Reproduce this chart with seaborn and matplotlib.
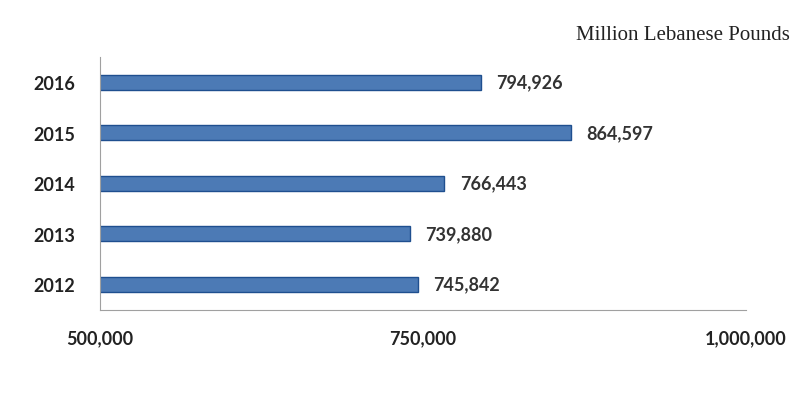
import matplotlib
matplotlib.use('Agg')
import matplotlib.pyplot as plt
import seaborn as sns
import pandas as pd

# data
years = ['2016', '2015', '2014', '2013', '2012']
values = [794926, 864597, 766443, 739880, 745842]
x_ticks = [500000, 750000, 1000000]

df = pd.DataFrame({'year': years, 'value': values})

sns.set_theme(style='white')
plt.rcParams['font.family'] = ['Lato', 'DejaVu Sans']

fig = plt.figure(figsize=(7.98, 4.14), dpi=100)
ax = fig.add_axes([0.125, 0.25, 0.81, 0.61])

sns.barplot(data=df, x='value', y='year', orient='h', color='#3b78c6',
            width=0.3, edgecolor='#1f4f8f', linewidth=1.0, ax=ax)

ax.set_xlim(500000, 1000000)
ax.set_xticks(x_ticks)
ax.set_xticklabels([f'{t:,}' for t in x_ticks], fontsize=13, fontweight='bold', color='#222222')
ax.set_yticks(range(len(years)))
ax.set_yticklabels(years, fontsize=13, fontweight='bold', color='#222222')
ax.set_xlabel('')
ax.set_ylabel('')

for s in ['top', 'right']:
    ax.spines[s].set_visible(False)
for s in ['left', 'bottom']:
    ax.spines[s].set_color('#a0a0a0')
    ax.spines[s].set_linewidth(0.8)
ax.tick_params(axis='both', length=4, color='#a0a0a0', width=0.8, direction='out', pad=14)
ax.tick_params(axis='x', pad=10)

# value labels
for i, v in enumerate(values):
    ax.text(v + 12000, i, f'{v:,}', va='center', ha='left',
            fontsize=13, fontweight='bold', color='#333333')

fig.text(0.99, 0.915, 'Million Lebanese Pounds', ha='right', va='center',
         fontsize=15, family=['Liberation Serif', 'DejaVu Serif'], color='#222222')

plt.savefig('out.png', dpi=100)
